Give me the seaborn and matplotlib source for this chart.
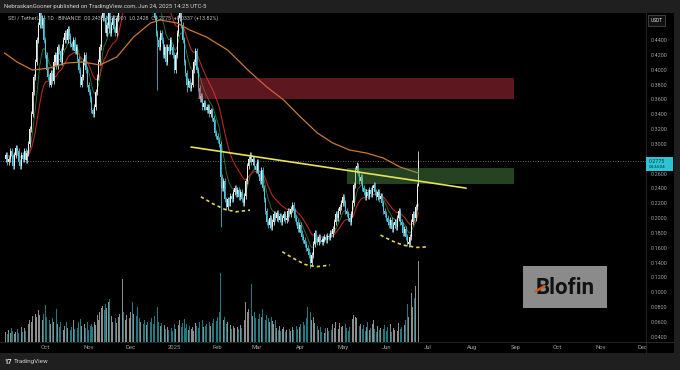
import numpy as np
import pandas as pd
import matplotlib
matplotlib.use("Agg")
import matplotlib.pyplot as plt
import matplotlib.dates as mdates
from matplotlib.patches import Rectangle
from matplotlib.lines import Line2D
import seaborn as sns

# ---------------- data ----------------
start_date = "2024-09-03"
first_open = 0.28
closes = [
    0.285, 0.275, 0.28, 0.29, 0.283, 0.27, 0.285, 0.295, 0.29, 0.275, 0.27, 0.285, 0.28, 0.29, 0.278, 0.288,
    0.30, 0.32, 0.34, 0.37, 0.39, 0.41, 0.44, 0.46, 0.48,
    0.46, 0.47, 0.44, 0.42, 0.40, 0.39, 0.38, 0.395, 0.385, 0.41, 0.42, 0.405, 0.43, 0.425, 0.41, 0.43,
    0.44, 0.45, 0.44, 0.455, 0.445, 0.435, 0.43, 0.44, 0.425, 0.43, 0.415, 0.40, 0.38, 0.39, 0.41,
    0.42, 0.40, 0.38, 0.37, 0.36, 0.345, 0.34, 0.35, 0.37, 0.39, 0.41, 0.43, 0.47, 0.49, 0.47,
    0.45, 0.46, 0.48, 0.45, 0.46, 0.47, 0.455, 0.45, 0.47, 0.50, 0.54, 0.55, 0.58, 0.56, 0.57,
    0.60, 0.62, 0.65, 0.70, 0.68, 0.72, 0.70, 0.66, 0.58, 0.55, 0.60, 0.62, 0.60, 0.58, 0.62, 0.61,
    0.60, 0.55, 0.52, 0.50, 0.47, 0.45, 0.44, 0.43, 0.45, 0.44, 0.42, 0.43, 0.41, 0.43, 0.425, 0.44,
    0.43, 0.42, 0.40, 0.42, 0.45, 0.47, 0.48, 0.46, 0.44, 0.41, 0.395, 0.38, 0.385, 0.375, 0.38, 0.40,
    0.41, 0.425, 0.40, 0.375, 0.36, 0.365, 0.35, 0.355, 0.35, 0.345, 0.35, 0.34, 0.345, 0.335, 0.33, 0.315,
    0.31, 0.305, 0.30, 0.255, 0.24, 0.25, 0.225, 0.215, 0.225, 0.22, 0.23, 0.225, 0.235, 0.24,
    0.232, 0.238, 0.228, 0.235, 0.225, 0.22, 0.23, 0.25, 0.27, 0.28, 0.285, 0.275, 0.28, 0.27,
    0.265, 0.275, 0.26, 0.25, 0.265, 0.24, 0.225, 0.21, 0.195, 0.19, 0.20, 0.188, 0.195, 0.205, 0.20, 0.207,
    0.198, 0.203, 0.195, 0.20, 0.205, 0.197, 0.20, 0.21, 0.205, 0.212, 0.218, 0.21, 0.20, 0.195, 0.185,
    0.19, 0.18, 0.175, 0.17, 0.165, 0.16, 0.155, 0.15, 0.14, 0.15, 0.165, 0.18, 0.172, 0.168, 0.175, 0.17,
    0.168, 0.172, 0.175, 0.17, 0.176, 0.175, 0.18, 0.178, 0.185, 0.195, 0.205, 0.20, 0.21, 0.215, 0.22,
    0.228, 0.22, 0.21, 0.205, 0.20, 0.195, 0.205, 0.22, 0.245, 0.265, 0.27, 0.26, 0.25, 0.255, 0.24, 0.235,
    0.228, 0.235, 0.23, 0.238, 0.232, 0.24, 0.245, 0.235, 0.228, 0.235, 0.225, 0.23, 0.22, 0.21, 0.205,
    0.20, 0.195, 0.19, 0.198, 0.185, 0.19, 0.195, 0.188, 0.20, 0.21, 0.195, 0.19, 0.18, 0.185, 0.175, 0.165,
    0.168, 0.175, 0.195, 0.205, 0.20, 0.215, 0.2438, 0.2775,
]
volumes = [
    10, 8, 12, 9, 14, 11, 8, 10, 13, 9, 12, 15, 10, 14, 11, 13,
    18, 22, 20, 26, 24, 28, 25, 32, 27, 24, 22, 28,
    37,
    25, 20, 22, 18, 24, 20, 28, 33, 18, 15, 20, 14,
    12, 16, 20, 14, 18, 12, 15, 22, 13, 17, 14, 20,
    23, 16, 12, 18, 14, 20, 12, 16, 18, 15, 20, 17, 27,
    22, 30, 34, 36, 32, 38, 34, 40, 42, 26, 20, 22, 24, 19, 25,
    28, 75, 62, 30, 22,
    27, 33, 24, 30, 40, 28, 22, 26, 35, 24, 20, 32, 18, 22, 17, 20,
    15, 20, 24, 18, 26, 22, 35, 20, 16, 19, 14, 17, 13, 15, 12, 16,
    14, 11, 18, 13, 20, 17, 22, 15, 19, 23, 14, 18, 12, 16, 13, 15, 11, 19, 16, 14, 20,
    43,
    22, 15, 16, 18, 14, 20, 16, 19, 23, 17, 21, 25,
    30, 68, 27, 22, 25, 18, 20, 15, 17, 13, 16, 14, 12, 15, 13, 17, 14, 16, 22, 40, 30, 33, 28, 57, 26, 30,
    24, 31, 23, 28, 25, 33, 26, 22, 27, 24, 20, 25, 21, 18, 22,
    14, 12, 16, 11, 13, 15, 10, 12, 17, 13, 11, 15, 12, 14, 16, 13,
    15, 18, 14, 20, 17, 24, 35, 40, 30, 22, 25, 19, 27, 16,
    12, 15, 10, 13, 9, 14, 14, 11, 16, 12, 18, 14, 20, 17, 13, 19, 15,
    16, 12, 18, 14, 11, 15, 19, 23, 27, 25, 24, 20, 16, 18,
    13, 17, 11, 15, 20, 12, 14, 18, 22, 13, 10, 16, 12, 14, 9, 13, 17, 11, 15, 12, 18, 10, 14, 12, 16,
    11, 19, 13, 15, 12, 17,
    22, 38, 25, 30, 48, 35, 43, 55, 52, 80,
]
high_overrides = {"2025-05-11": 0.275, "2025-06-24": 0.2901}
low_overrides = {"2024-12-20": 0.373, "2025-01-10": 0.370, "2025-02-03": 0.188,
                 "2025-04-08": 0.133, "2025-06-16": 0.162, "2025-06-24": 0.2428}
wick = 0.004

ma_slow_dates = ["2024-09-02", "2024-09-11", "2024-09-22", "2024-10-04", "2024-10-16", "2024-10-28",
                 "2024-11-09", "2024-11-21", "2024-12-03", "2024-12-15", "2024-12-22", "2025-01-03",
                 "2025-01-12", "2025-01-24", "2025-02-08", "2025-02-24", "2025-03-08", "2025-03-20",
                 "2025-04-01", "2025-04-13", "2025-04-24", "2025-05-06", "2025-05-18", "2025-05-30",
                 "2025-06-11", "2025-06-24"]
ma_slow_values = [0.4225, 0.4103, 0.3995, 0.4022, 0.409, 0.4103, 0.4063, 0.4171, 0.444, 0.4629,
                  0.467, 0.4629, 0.4535, 0.444, 0.4265, 0.3968, 0.3766, 0.3591, 0.3362, 0.3146,
                  0.3011, 0.2917, 0.2876, 0.2809, 0.2687, 0.2606]
ema_fast_span = 9
ema_mid_span = 21

supply_zone = ["2025-01-18", "2025-08-31", 0.3604, 0.3888]
demand_zone = ["2025-05-04", "2025-08-31", 0.2458, 0.2673]
trend_dates = ["2025-01-13", "2025-07-28"]
trend_values = [0.2957, 0.2403]
arc1_dates = ["2025-01-20", "2025-01-29", "2025-02-06", "2025-02-14", "2025-02-24"]
arc1_values = [0.2287, 0.2188, 0.2117, 0.2084, 0.2107]
arc2_dates = ["2025-03-19", "2025-03-27", "2025-04-04", "2025-04-12", "2025-04-22"]
arc2_values = [0.1545, 0.1456, 0.1375, 0.1343, 0.1366]
arc3_dates = ["2025-05-28", "2025-06-05", "2025-06-13", "2025-06-23", "2025-07-01"]
arc3_values = [0.177, 0.1693, 0.1635, 0.1604, 0.1612]

price_ticks = [0.04, 0.06, 0.08, 0.10, 0.12, 0.14, 0.16, 0.18, 0.20, 0.22, 0.24,
               0.26, 0.28, 0.30, 0.32, 0.34, 0.36, 0.38, 0.40, 0.42, 0.44]
month_ticks = ["2024-10-01", "2024-11-01", "2024-12-01", "2025-01-01", "2025-02-01", "2025-03-01",
               "2025-04-01", "2025-05-01", "2025-06-01", "2025-07-01", "2025-08-01", "2025-09-01",
               "2025-10-01", "2025-11-01", "2025-12-01"]
month_labels = ["Oct", "Nov", "Dec", "2025", "Feb", "Mar", "Apr", "May", "Jun", "Jul", "Aug", "Sep",
                "Oct", "Nov", "Dec"]
last_price = 0.2775

# ---------------- styling ----------------
sns.set_theme(style="dark")
plt.rcParams["font.family"] = ["Roboto", "DejaVu Sans"]

W, H = 680, 370
fig = plt.figure(figsize=(W / 100, H / 100), dpi=100, facecolor="#1f1f1f")


def rect(x0, y0, x1, y1):
    return [x0 / W, 1 - y1 / H, (x1 - x0) / W, (y1 - y0) / H]


def fx(x):
    return x / W


def fy(y):
    return 1 - y / H


fig.add_artist(Rectangle((0, fy(353)), fx(674), (353 - 13) / H, transform=fig.transFigure,
                         facecolor="black", edgecolor="none", zorder=-5))

ax_vol = fig.add_axes(rect(0, 13, 646, 342))
ax = fig.add_axes(rect(0, 13, 646, 342))
for a in (ax, ax_vol):
    a.patch.set_visible(False)
    for s in a.spines.values():
        s.set_visible(False)
    a.grid(False)

dates = pd.date_range(start_date, periods=len(closes), freq="D")
xs = mdates.date2num(dates)
c = np.array(closes)
o = np.array([first_open] + closes[:-1])
hi = np.maximum(o, c) + wick
lo = np.minimum(o, c) - wick
for d, v in high_overrides.items():
    hi[dates.get_loc(pd.Timestamp(d))] = v
for d, v in low_overrides.items():
    lo[dates.get_loc(pd.Timestamp(d))] = v
up = c >= o
ccols = np.where(up, "#f0f0f0", "#4fc8e0")
vcols = np.where(up, "#8e8e8e", "#1f7b82")

base = mdates.date2num(pd.Timestamp("2025-01-01"))
xlim = (base - 124.2, base + 336.2)

# volume
ax_vol.bar(xs, volumes, width=0.6, color=vcols, linewidth=0)
ax_vol.set_xlim(*xlim)
ax_vol.set_ylim(0, 325)
ax_vol.set_xticks([])
ax_vol.set_yticks([])

# zones
for z, fc in ((supply_zone, "#e0384a"), (demand_zone, "#5aa050")):
    x0 = mdates.date2num(pd.Timestamp(z[0]))
    x1 = mdates.date2num(pd.Timestamp(z[1]))
    ax.add_patch(Rectangle((x0, z[2]), x1 - x0, z[3] - z[2], facecolor=fc, alpha=0.42,
                           edgecolor="none", zorder=7))

ax.axhline(last_price, color="#8a8a8a", lw=0.6, ls=(0, (1, 2)), zorder=1)

# EMAs from closes
s = pd.Series(closes)
ema_fast = s.ewm(span=ema_fast_span, adjust=False).mean().values
ema_mid = s.ewm(span=ema_mid_span, adjust=False).mean().values
sns.lineplot(x=xs, y=ema_fast, ax=ax, color="#2e7d32", lw=0.6, zorder=3)
sns.lineplot(x=xs, y=ema_mid, ax=ax, color="#b8281e", lw=0.8, zorder=3)

# candles
ax.vlines(xs, lo, hi, colors=ccols, linewidth=0.55, zorder=4)
ax.bar(xs, np.maximum(np.abs(c - o), 0.0012), bottom=np.minimum(o, c), width=0.72,
       color=ccols, linewidth=0, zorder=5)

# slow MA
sns.lineplot(x=mdates.date2num(pd.to_datetime(ma_slow_dates)), y=ma_slow_values, ax=ax,
             color="#c97a30", lw=0.9, zorder=6)

# trend line and arcs
sns.lineplot(x=mdates.date2num(pd.to_datetime(trend_dates)), y=trend_values, ax=ax,
             color="#e6e35a", lw=1.2, zorder=8)
for ad, av in ((arc1_dates, arc1_values), (arc2_dates, arc2_values), (arc3_dates, arc3_values)):
    sns.lineplot(x=mdates.date2num(pd.to_datetime(ad)), y=av, ax=ax, color="#e8d44a",
                 lw=1.2, linestyle=(0, (2, 1.8)), zorder=8)

ax.set_xlim(*xlim)
ax.set_ylim(0.0329, 0.4764)
ax.yaxis.tick_right()
ax.set_yticks(price_ticks)
# the 0.2800 label sits under the current-price box, as in the reference
ax.set_yticklabels(["" if abs(p - 0.28) < 1e-9 else f"{p:.4f}" for p in price_ticks])
ax.tick_params(axis="y", length=0, pad=3.6, labelsize=4, labelcolor="#a0a0a0")
ax.set_xticks(mdates.date2num(pd.to_datetime(month_ticks)))
ax.set_xticklabels(month_labels)
ax.tick_params(axis="x", length=0, pad=2.4, labelsize=4.2, labelcolor="#a0a0a0")
ax.set_xlabel("")
ax.set_ylabel("")

# separators
fig.add_artist(Line2D([fx(646), fx(646)], [fy(13), fy(353)], transform=fig.transFigure,
                      color="#2c2c2c", lw=0.6))
fig.add_artist(Line2D([0, fx(674)], [fy(342), fy(342)], transform=fig.transFigure,
                      color="#2c2c2c", lw=0.6))

# texts
fig.text(fx(4), fy(6.5), "NebraskanGooner published on TradingView.com, Jun 24, 2025 14:25 UTC-5",
         fontsize=4.3, color="#d4d4d4", va="center", ha="left")
fig.text(fx(8), fy(18.5),
         "SEI / TetherUS · 1D · BINANCE  O0.2438  H0.2901  L0.2428  C0.2775  +0.0337 (+13.82%)",
         fontsize=3.9, color="#bcbcbc", va="center", ha="left", zorder=12)

fig.add_artist(Rectangle((fx(648), fy(25.5)), (664.5 - 648) / W, 10.5 / H, transform=fig.transFigure,
                         facecolor="#121212", edgecolor="#555555", lw=0.5, zorder=12))
fig.text(fx(656.2), fy(20.3), "USDT", fontsize=3.5, color="#e0e0e0", va="center", ha="center", zorder=13)

fig.add_artist(Rectangle((fx(646), fy(171)), 27 / W, 14 / H, transform=fig.transFigure,
                         facecolor="#2ec4d6", edgecolor="none", zorder=12))
fig.text(fx(649), fy(161.3), f"{last_price:.4f}", fontsize=3.8, color="#06343a",
         va="center", ha="left", zorder=13)
fig.text(fx(649), fy(167.3), "04:34:04", fontsize=3.2, color="#06343a",
         va="center", ha="left", zorder=13)

# Blofin watermark
fig.add_artist(Rectangle((fx(523), fy(308)), 84 / W, 42 / H, transform=fig.transFigure,
                         facecolor="#8b8b8b", edgecolor="none", zorder=12))
fig.text(fx(565), fy(288.5), "Blofin", fontsize=16, fontweight="bold", color="#111111",
         va="center", ha="center", zorder=13)
fig.add_artist(Line2D([fx(535.5), fx(544.5)], [fy(291.5), fy(286)], transform=fig.transFigure,
                      color="#d4561c", lw=1.8, zorder=14))

# footer
fig.text(fx(4), fy(362), "17", fontsize=4.8, fontweight="bold", color="#e8e8e8", va="center", ha="left")
fig.text(fx(13.5), fy(362), "TradingView", fontsize=4.5, color="#d0d0d0", va="center", ha="left")

fig.savefig("out.png", dpi=100, facecolor=fig.get_facecolor())
